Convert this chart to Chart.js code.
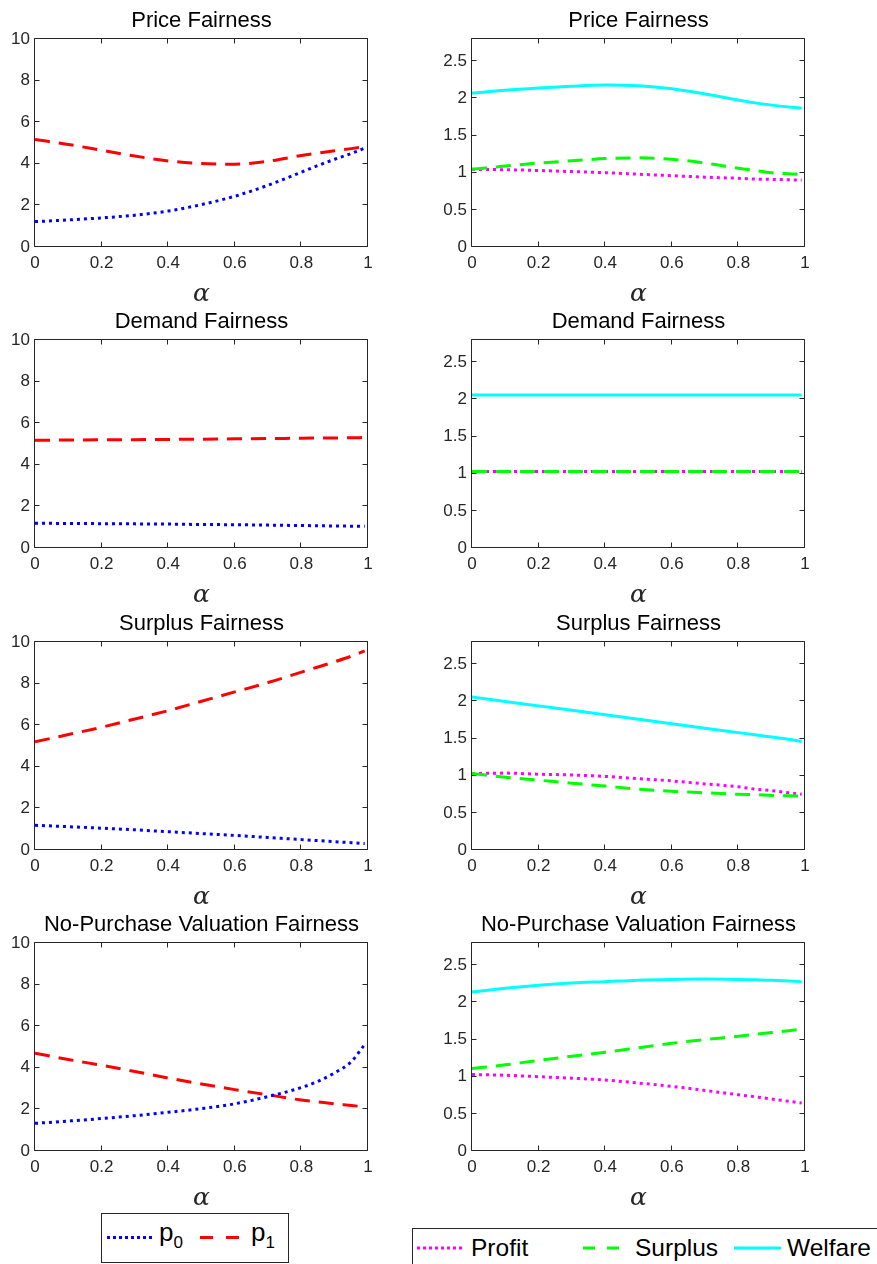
<!DOCTYPE html>
<html><head><meta charset="utf-8">
<script src="https://cdn.jsdelivr.net/npm/chart.js@4.4.0/dist/chart.umd.min.js"></script>
<style>
html,body{margin:0;padding:0;background:#fff}
body{width:877px;height:1264px;overflow:hidden;position:relative;font-family:"Liberation Sans",Arial,sans-serif}
canvas.cv{position:absolute}
svg.leg{position:absolute;overflow:visible}
</style></head><body>
<script>
// ---------------- DATA ----------------
const alpha = [0, 0.1, 0.2, 0.3, 0.4, 0.5, 0.6, 0.7, 0.8, 0.85, 0.9, 0.95, 0.99];
const titles = ['Price Fairness', 'Demand Fairness', 'Surplus Fairness', 'No-Purchase Valuation Fairness'];
const xTickValues = [0, 0.2, 0.4, 0.6, 0.8, 1];
const priceTickValues = [0, 2, 4, 6, 8, 10];
const welfareTickValues = [0, 0.5, 1, 1.5, 2, 2.5];

// Price Fairness
const priceP0      = [1.22, 1.30, 1.40, 1.53, 1.73, 2.04, 2.44, 2.97, 3.60, 3.92, 4.22, 4.50, 4.75];
const priceP1      = [5.17, 4.93, 4.65, 4.37, 4.14, 4.01, 3.98, 4.12, 4.40, 4.52, 4.63, 4.73, 4.82];
const priceProfit  = [1.045, 1.04, 1.03, 1.015, 1.00, 0.98, 0.96, 0.94, 0.925, 0.915, 0.91, 0.905, 0.90];
const priceSurplus = [1.045, 1.09, 1.13, 1.16, 1.19, 1.20, 1.18, 1.13, 1.06, 1.03, 1.00, 0.985, 0.975];
const priceWelfare = [2.07, 2.11, 2.14, 2.165, 2.18, 2.17, 2.13, 2.06, 1.98, 1.94, 1.91, 1.885, 1.87];

// Demand Fairness
const demandP0      = [1.19, 1.18, 1.17, 1.16, 1.15, 1.13, 1.12, 1.10, 1.08, 1.07, 1.06, 1.05, 1.04];
const demandP1      = [5.18, 5.19, 5.20, 5.21, 5.22, 5.23, 5.25, 5.26, 5.28, 5.285, 5.29, 5.30, 5.31];
const demandProfit  = [1.03, 1.03, 1.03, 1.03, 1.03, 1.03, 1.03, 1.03, 1.03, 1.03, 1.03, 1.03, 1.03];
const demandSurplus = [1.03, 1.03, 1.03, 1.03, 1.03, 1.03, 1.03, 1.03, 1.03, 1.03, 1.03, 1.03, 1.03];
const demandWelfare = [2.06, 2.06, 2.06, 2.06, 2.06, 2.06, 2.06, 2.06, 2.06, 2.06, 2.06, 2.06, 2.06];

// Surplus Fairness
const surplusP0      = [1.19, 1.12, 1.05, 0.97, 0.88, 0.79, 0.70, 0.60, 0.50, 0.45, 0.40, 0.35, 0.31];
const surplusP1      = [5.20, 5.55, 5.90, 6.30, 6.70, 7.15, 7.60, 8.05, 8.55, 8.80, 9.05, 9.32, 9.57];
const surplusProfit  = [1.03, 1.035, 1.02, 1.01, 0.99, 0.96, 0.93, 0.89, 0.85, 0.82, 0.80, 0.77, 0.75];
const surplusSurplus = [1.03, 0.98, 0.94, 0.90, 0.86, 0.82, 0.79, 0.77, 0.75, 0.745, 0.735, 0.73, 0.725];
const surplusWelfare = [2.06, 2.00, 1.94, 1.88, 1.82, 1.76, 1.70, 1.64, 1.58, 1.55, 1.52, 1.49, 1.46];

// No-Purchase Valuation Fairness
const npvP0      = [1.33, 1.44, 1.56, 1.70, 1.86, 2.04, 2.27, 2.62, 3.05, 3.35, 3.76, 4.30, 5.12];
const npvP1      = [4.70, 4.40, 4.12, 3.82, 3.51, 3.22, 2.95, 2.70, 2.45, 2.36, 2.27, 2.19, 2.12];
const npvProfit  = [1.03, 1.02, 1.00, 0.98, 0.955, 0.915, 0.87, 0.815, 0.757, 0.73, 0.70, 0.67, 0.645];
const npvSurplus = [1.11, 1.16, 1.22, 1.275, 1.33, 1.39, 1.45, 1.50, 1.545, 1.57, 1.595, 1.62, 1.64];
const npvWelfare = [2.14, 2.19, 2.23, 2.26, 2.28, 2.30, 2.31, 2.315, 2.31, 2.305, 2.30, 2.29, 2.28];

const leftSeries = [
  [priceP0, priceP1], [demandP0, demandP1], [surplusP0, surplusP1], [npvP0, npvP1]
];
const rightSeries = [
  [priceProfit, priceSurplus, priceWelfare],
  [demandProfit, demandSurplus, demandWelfare],
  [surplusProfit, surplusSurplus, surplusWelfare],
  [npvProfit, npvSurplus, npvWelfare]
];

// ---------------- STYLES ----------------
const AX = '#262626';
const SANS = '"Liberation Sans", Arial, sans-serif';
const leftStyles = [
  {label: 'p0', color: '#0000ff', dash: [3, 4], order: 1},
  {label: 'p1', color: '#ff0000', dash: [15, 9], order: 2}
];
const rightStyles = [
  {label: 'Profit', color: '#ff00ff', dash: [3, 4], order: 3},
  {label: 'Surplus', color: '#00ff00', dash: [15, 9], order: 2},
  {label: 'Welfare', color: '#00ffff', dash: [], order: 1}
];
const rowCanvasTop = [0, 301, 603, 904];
const colCanvasLeft = [0, 437];
const CW = 403, CH = 309;

function fmt(v) { return String(Math.round(v * 1000) / 1000); }

const boxPlugin = {
  id: 'mbox',
  beforeDatasetsDraw(chart) {
    const {ctx, chartArea: a, scales} = chart;
    const L = Math.round(a.left) - 0.5, R = Math.round(a.right) - 0.5;
    const T = Math.round(a.top) - 0.5, B = Math.round(a.bottom) - 0.5;
    ctx.save();
    ctx.strokeStyle = AX;
    ctx.lineWidth = 1;
    ctx.beginPath();
    ctx.rect(L, T, R - L, B - T);
    scales.x.ticks.forEach(t => {
      const px = Math.round(scales.x.getPixelForValue(t.value)) - 0.5;
      ctx.moveTo(px, B); ctx.lineTo(px, B - 5);
      ctx.moveTo(px, T); ctx.lineTo(px, T + 5);
    });
    scales.y.ticks.forEach(t => {
      const py = Math.round(scales.y.getPixelForValue(t.value)) - 0.5;
      ctx.moveTo(L, py); ctx.lineTo(L + 5, py);
      ctx.moveTo(R, py); ctx.lineTo(R - 5, py);
    });
    ctx.stroke();
    ctx.restore();
  }
};

function makeChart(col, row) {
  const cv = document.createElement('canvas');
  cv.className = 'cv';
  cv.width = CW; cv.height = CH;
  cv.style.left = colCanvasLeft[col] + 'px';
  cv.style.top = rowCanvasTop[row] + 'px';
  cv.style.width = CW + 'px'; cv.style.height = CH + 'px';
  document.body.appendChild(cv);

  const seriesList = col === 0 ? leftSeries[row] : rightSeries[row];
  const styles = col === 0 ? leftStyles : rightStyles;
  const yTicks = col === 0 ? priceTickValues : welfareTickValues;
  const yMax = col === 0 ? 10 : 2.8;

  const datasets = seriesList.map((s, i) => ({
    label: styles[i].label,
    data: alpha.map((a, j) => ({x: a, y: s[j]})),
    borderColor: styles[i].color,
    backgroundColor: styles[i].color,
    borderWidth: 3,
    borderDash: styles[i].dash,
    borderCapStyle: 'butt',
    pointRadius: 0,
    fill: false,
    cubicInterpolationMode: 'monotone',
    order: styles[i].order
  }));

  new Chart(cv, {
    type: 'line',
    data: {datasets},
    options: {
      responsive: false,
      animation: false,
      devicePixelRatio: 1,
      layout: {padding: 0},
      plugins: {
        legend: {display: false},
        tooltip: {enabled: false},
        title: {
          display: true, text: titles[row], color: '#000',
          font: {family: SANS, size: 22, weight: 'normal', lineHeight: 1.2},
          padding: {top: 8, bottom: 4.6}
        }
      },
      scales: {
        x: {
          type: 'linear', min: 0, max: 1,
          afterBuildTicks: s => { s.ticks = xTickValues.map(v => ({value: v})); },
          ticks: {color: AX, font: {family: SANS, size: 17}, padding: 6,
                  maxRotation: 0, autoSkip: false, callback: fmt},
          grid: {display: false, drawTicks: false},
          border: {display: false},
          title: {display: true, text: 'α', color: AX,
                  font: {family: '"DejaVu Serif", "Liberation Serif", serif', style: 'italic', size: 25, lineHeight: 1.2},
                  padding: {top: 0, bottom: 0}},
          afterFit: s => { s.height = 62; }
        },
        y: {
          type: 'linear', min: 0, max: yMax,
          afterBuildTicks: s => { s.ticks = yTicks.map(v => ({value: v})); },
          ticks: {color: AX, font: {family: SANS, size: 17}, padding: 5, callback: fmt},
          grid: {display: false, drawTicks: false},
          border: {display: false},
          afterFit: s => { s.width = 35; }
        },
        yr: {
          type: 'linear', position: 'right', display: true,
          ticks: {display: false},
          grid: {display: false, drawTicks: false},
          border: {display: false},
          afterFit: s => { s.width = 35; }
        }
      }
    },
    plugins: [boxPlugin]
  });
}

for (let r = 0; r < 4; r++) { makeChart(0, r); makeChart(1, r); }
</script>

<svg class="leg" style="left:101px;top:1213px" width="188" height="51">
  <rect x="0.5" y="0.5" width="187" height="49" fill="#fff" stroke="#262626" stroke-width="1"/>
  <line x1="6" y1="24.5" x2="52" y2="24.5" stroke="#0000ff" stroke-width="3" stroke-dasharray="3 3"/>
  <text x="58" y="28" font-family="Liberation Sans, Arial, sans-serif" font-size="26" fill="#000">p<tspan font-size="17" dy="7">0</tspan></text>
  <line x1="99" y1="24.5" x2="138" y2="24.5" stroke="#ff0000" stroke-width="3" stroke-dasharray="13 13"/>
  <text x="150" y="28" font-family="Liberation Sans, Arial, sans-serif" font-size="26" fill="#000">p<tspan font-size="17" dy="7">1</tspan></text>
</svg>

<svg class="leg" style="left:412px;top:1228px" width="480" height="50">
  <rect x="0.5" y="0.5" width="490" height="60" fill="#fff" stroke="#262626" stroke-width="1"/>
  <line x1="5" y1="20" x2="53" y2="20" stroke="#ff00ff" stroke-width="3" stroke-dasharray="3 3"/>
  <text x="59" y="27.5" font-family="Liberation Sans, Arial, sans-serif" font-size="24.5" fill="#000">Profit</text>
  <line x1="171" y1="20" x2="208" y2="20" stroke="#00ff00" stroke-width="3" stroke-dasharray="12 12"/>
  <text x="223" y="27.5" font-family="Liberation Sans, Arial, sans-serif" font-size="24.5" fill="#000">Surplus</text>
  <line x1="322" y1="20" x2="369" y2="20" stroke="#00ffff" stroke-width="3"/>
  <text x="375" y="27.5" font-family="Liberation Sans, Arial, sans-serif" font-size="24.5" fill="#000">Welfare</text>
</svg>
</body></html>
